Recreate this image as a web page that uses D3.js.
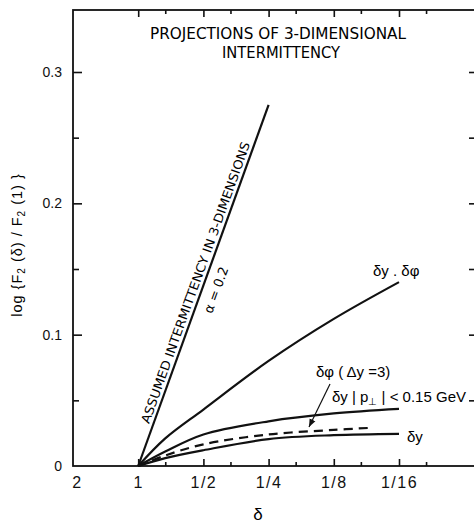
<!DOCTYPE html>
<html>
<head>
<meta charset="utf-8">
<script src="https://cdn.jsdelivr.net/npm/d3@7"></script>
<style>
  body { margin: 0; background: #fff; }
  svg { font-family: "Liberation Sans", Arial, sans-serif; }
</style>
</head>
<body>
<div id="chart"></div>
<script>
// tick values and labels (delta axis runs from 2 down to 1/16)
var deltaTicks = [2, 1, 1/2, 1/4, 1/8, 1/16];
var deltaLabels = ["2", "1", "1/2", "1/4", "1/8", "1/16"];
var deltaMinor = [0.75, 0.375, 0.1875, 0.09375, 0.046875];
var yTicks = [0, 0.1, 0.2, 0.3];
var yMinor = [0.05, 0.15, 0.25];

// assumed intermittency, alpha = 0.2 (straight line)
var alphaDelta = [1, 1/4];
var alphaVals = [0, 0.275];

// dy . dphi
var prodDelta = [1, 0.75, 0.5, 0.25, 0.125, 0.0625];
var prodVals = [0, 0.021, 0.043, 0.080, 0.112, 0.140];

// dphi (Dy = 3)
var phiDelta = [1, 0.75, 0.5, 0.25, 0.125, 0.0625];
var phiVals = [0, 0.011, 0.024, 0.034, 0.040, 0.0435];

// dy with |pT| < 0.15 GeV (dashed)
var ptDelta = [1, 0.75, 0.5, 0.25, 0.125, 0.086];
var ptVals = [0, 0.008, 0.0165, 0.024, 0.0275, 0.029];

// dy
var dyDelta = [1, 0.75, 0.5, 0.25, 0.125, 0.0625];
var dyVals = [0, 0.006, 0.012, 0.0205, 0.0235, 0.0245];

var W = 474, H = 525;
var frame = {left: 73, right: 476, top: 10, bottom: 466};

var svg = d3.select("#chart").append("svg")
    .attr("width", W)
    .attr("height", H);

var x = d3.scaleLog().base(2)
    .domain([2, 1/16])
    .range([frame.left, 399]);

var y = d3.scaleLinear()
    .domain([0, 0.3])
    .range([frame.bottom, 72]);

// frame
svg.append("rect")
    .attr("x", frame.left).attr("y", frame.top)
    .attr("width", frame.right - frame.left)
    .attr("height", frame.bottom - frame.top)
    .attr("fill", "none")
    .attr("stroke", "#111")
    .attr("stroke-width", 1.8);

function styleAxis(g) {
    g.select(".domain").remove();
    g.selectAll(".tick line").attr("stroke", "#111").attr("stroke-width", 1.6);
    g.selectAll(".tick text").attr("fill", "#111");
}

// bottom axis, major ticks with labels
var xb = svg.append("g")
    .attr("transform", "translate(0," + frame.bottom + ")")
    .call(d3.axisBottom(x).tickValues(deltaTicks)
        .tickFormat(function(d, i) { return deltaLabels[i]; })
        .tickSizeInner(-7).tickSizeOuter(0).tickPadding(11))
    .call(styleAxis);
xb.selectAll(".tick text")
    .attr("font-size", 16)
    .attr("letter-spacing", 1.5)
    .attr("dx", function(d) { return d === 2 ? 4 : 0; });
xb.selectAll(".tick line").filter(function(d) { return d === 2; }).remove();

svg.append("g")
    .attr("transform", "translate(0," + frame.bottom + ")")
    .call(d3.axisBottom(x).tickValues(deltaMinor).tickFormat("")
        .tickSizeInner(-4).tickSizeOuter(0))
    .call(styleAxis);

// top axis, no labels
svg.append("g")
    .attr("transform", "translate(0," + frame.top + ")")
    .call(d3.axisTop(x).tickValues(deltaTicks.slice(1)).tickFormat("")
        .tickSizeInner(-7).tickSizeOuter(0))
    .call(styleAxis);
svg.append("g")
    .attr("transform", "translate(0," + frame.top + ")")
    .call(d3.axisTop(x).tickValues(deltaMinor).tickFormat("")
        .tickSizeInner(-4).tickSizeOuter(0))
    .call(styleAxis);

// left axis
var yl = svg.append("g")
    .attr("transform", "translate(" + frame.left + ",0)")
    .call(d3.axisLeft(y).tickValues(yTicks)
        .tickFormat(function(d) { return d === 0 ? "0" : d3.format(".1f")(d); })
        .tickSizeInner(-9).tickSizeOuter(0).tickPadding(11))
    .call(styleAxis);
yl.selectAll(".tick text").attr("font-size", 14);
yl.selectAll(".tick line").filter(function(d) { return d === 0; }).remove();

svg.append("g")
    .attr("transform", "translate(" + frame.left + ",0)")
    .call(d3.axisLeft(y).tickValues(yMinor).tickFormat("")
        .tickSizeInner(-6).tickSizeOuter(0))
    .call(styleAxis);

// right axis
svg.append("g")
    .attr("transform", "translate(" + frame.right + ",0)")
    .call(d3.axisRight(y).tickValues(yMinor.concat(yTicks.slice(1))).tickFormat("")
        .tickSizeInner(-7).tickSizeOuter(0))
    .call(styleAxis);

// curves
var line = d3.line()
    .x(function(d) { return x(d[0]); })
    .y(function(d) { return y(d[1]); })
    .curve(d3.curveCatmullRom.alpha(0.5));

function addCurve(deltas, vals, dashed) {
    svg.append("path")
        .datum(d3.zip(deltas, vals))
        .attr("d", line)
        .attr("fill", "none")
        .attr("stroke", "#111")
        .attr("stroke-width", 2.2)
        .attr("stroke-dasharray", dashed ? "9,6" : null);
}

addCurve(alphaDelta, alphaVals, false);
addCurve(prodDelta, prodVals, false);
addCurve(phiDelta, phiVals, false);
addCurve(dyDelta, dyVals, false);
addCurve(ptDelta, ptVals, true);

// title
svg.append("text")
    .attr("x", 278).attr("y", 39)
    .attr("text-anchor", "middle")
    .attr("font-family", "DejaVu Sans")
    .attr("font-size", 15)
    .attr("textLength", 256).attr("lengthAdjust", "spacingAndGlyphs")
    .text("PROJECTIONS OF 3-DIMENSIONAL");
svg.append("text")
    .attr("x", 281).attr("y", 58)
    .attr("text-anchor", "middle")
    .attr("font-family", "DejaVu Sans")
    .attr("font-size", 15)
    .attr("textLength", 118).attr("lengthAdjust", "spacingAndGlyphs")
    .text("INTERMITTENCY");

// text along the alpha line
var p0 = [x(alphaDelta[0]), y(alphaVals[0])],
    p1 = [x(alphaDelta[1]), y(alphaVals[1])];
var ang = Math.atan2(p1[1] - p0[1], p1[0] - p0[0]) * 180 / Math.PI;
var mid = [(p0[0] + p1[0]) / 2, (p0[1] + p1[1]) / 2];

svg.append("text")
    .attr("transform", "translate(" + mid[0] + "," + mid[1] + ") rotate(" + ang + ")")
    .attr("y", -4)
    .attr("text-anchor", "middle")
    .attr("font-family", "DejaVu Sans")
    .attr("font-size", 12.5)
    .attr("textLength", 298).attr("lengthAdjust", "spacingAndGlyphs")
    .text("ASSUMED INTERMITTENCY IN 3-DIMENSIONS");

svg.append("text")
    .attr("transform", "translate(" + mid[0] + "," + mid[1] + ") rotate(" + ang + ")")
    .attr("y", 18)
    .attr("text-anchor", "middle")
    .attr("font-family", "DejaVu Sans")
    .attr("font-size", 13)
    .text("\u03b1 = 0.2");

// curve labels
svg.append("text")
    .attr("x", 373).attr("y", 276)
    .attr("font-size", 15)
    .text("\u03b4y . \u03b4\u03c6");

svg.append("text")
    .attr("x", 316).attr("y", 377)
    .attr("font-size", 15)
    .text("\u03b4\u03c6 ( \u0394y =3)");

var ptLabel = svg.append("text")
    .attr("x", 332).attr("y", 402)
    .attr("font-size", 15);
ptLabel.append("tspan").text("\u03b4y | p");
ptLabel.append("tspan").attr("dy", 3).attr("font-size", 10).text("\u22a5");
ptLabel.append("tspan").attr("dy", -3).text(" | < 0.15 GeV");

svg.append("text")
    .attr("x", 407).attr("y", 442)
    .attr("font-size", 15)
    .text("\u03b4y");

// arrow to the dashed curve
svg.append("defs").append("marker")
    .attr("id", "head")
    .attr("viewBox", "0 0 10 10")
    .attr("refX", 10).attr("refY", 5)
    .attr("markerWidth", 8).attr("markerHeight", 8)
    .attr("markerUnits", "userSpaceOnUse")
    .attr("orient", "auto")
    .append("path")
    .attr("d", "M0,1 L10,5 L0,9 Z")
    .attr("fill", "#111");

svg.append("line")
    .attr("x1", 330).attr("y1", 384)
    .attr("x2", 309).attr("y2", 427)
    .attr("stroke", "#111")
    .attr("stroke-width", 1.2)
    .attr("marker-end", "url(#head)");

// axis titles
var yTitle = svg.append("text")
    .attr("transform", "translate(22,245) rotate(-90)")
    .attr("text-anchor", "middle")
    .attr("font-size", 14.5)
    .attr("letter-spacing", 1);
yTitle.append("tspan").text("log {F");
yTitle.append("tspan").attr("dy", 3).attr("font-size", 10).text("2");
yTitle.append("tspan").attr("dy", -3).text(" (\u03b4) / F");
yTitle.append("tspan").attr("dy", 3).attr("font-size", 10).text("2");
yTitle.append("tspan").attr("dy", -3).text(" (1) }");

svg.append("text")
    .attr("x", 258).attr("y", 520)
    .attr("text-anchor", "middle")
    .attr("font-size", 17)
    .text("\u03b4");
</script>
</body>
</html>
